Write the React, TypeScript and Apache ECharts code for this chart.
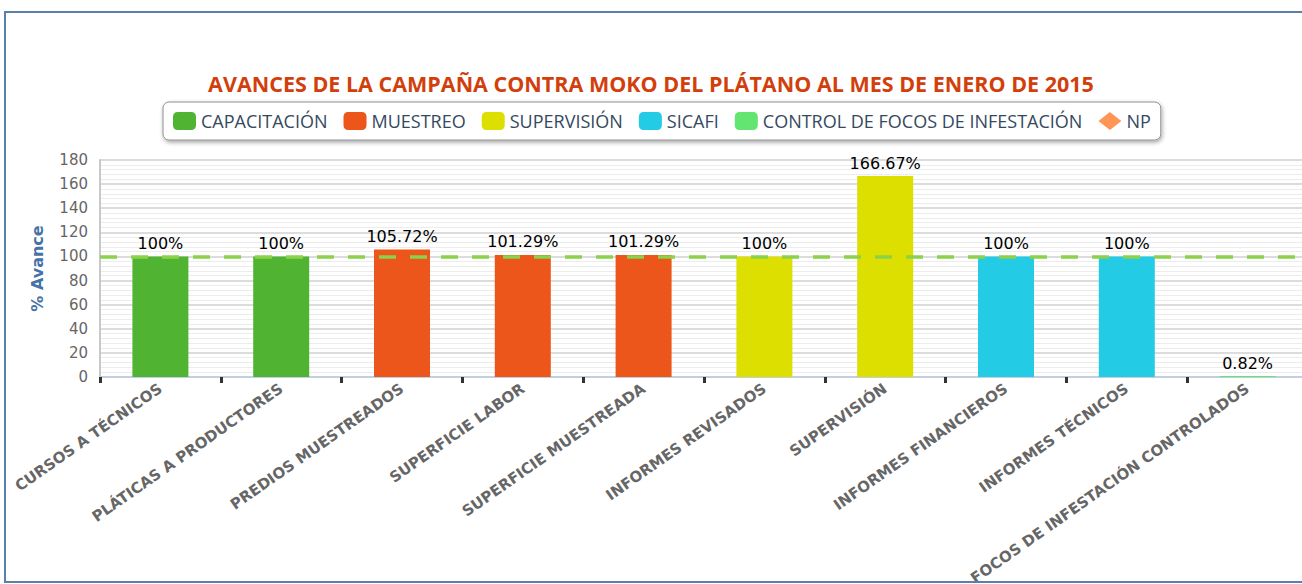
import React, { useEffect, useRef } from "react";
import * as echarts from "echarts";

const categories = [
  "CURSOS A TÉCNICOS",
  "PLÁTICAS A PRODUCTORES",
  "PREDIOS MUESTREADOS",
  "SUPERFICIE LABOR",
  "SUPERFICIE MUESTREADA",
  "INFORMES REVISADOS",
  "SUPERVISIÓN",
  "INFORMES FINANCIEROS",
  "INFORMES TÉCNICOS",
  "FOCOS DE INFESTACIÓN CONTROLADOS",
];

const capacitacion = [100, 100, null, null, null, null, null, null, null, null];
const muestreo = [null, null, 105.72, 101.29, 101.29, null, null, null, null, null];
const supervision = [null, null, null, null, null, 100, 166.67, null, null, null];
const sicafi = [null, null, null, null, null, null, null, 100, 100, null];
const controlFocos = [null, null, null, null, null, null, null, null, null, 0.82];
const npTarget = 100;

const seriesNames = [
  "CAPACITACIÓN",
  "MUESTREO",
  "SUPERVISIÓN",
  "SICAFI",
  "CONTROL DE FOCOS DE INFESTACIÓN",
  "NP",
];
const seriesData = [capacitacion, muestreo, supervision, sicafi, controlFocos];
const colors = ["#50B432", "#ED561B", "#DDDF00", "#24CBE5", "#64E572", "#FF9655"];

export default function App() {
  const ref = useRef<HTMLDivElement>(null);
  useEffect(() => {
    if (!ref.current) return;
    const chart = echarts.init(ref.current, null, { renderer: "svg" });
    const bars = seriesData.map((d, i) => ({
      name: seriesNames[i],
      type: "bar",
      stack: "all",
      data: d,
      barWidth: 56,
      itemStyle: { color: colors[i] },
      label: {
        show: true,
        position: "top",
        distance: 5,
        formatter: (p: any) => (p.value == null ? "" : `${p.value}%`),
        color: "#000",
        fontSize: 16,
        fontFamily: "DejaVu Sans",
      },
    }));
    chart.setOption({
      animation: false,
      backgroundColor: "#fff",
      title: {
        text: "AVANCES DE LA CAMPAÑA CONTRA MOKO DEL PLÁTANO AL MES DE ENERO DE 2015",
        left: 646,
        textAlign: "center",
        top: 67,
        textStyle: {
          color: "#d23f0c",
          fontSize: 21.5,
          fontWeight: "bold",
          fontFamily: "Open Sans",
        },
      },
      legend: {
        top: 102,
        left: 163,
        itemWidth: 23,
        itemHeight: 18,
        itemGap: 16,
        padding: [10, 10, 10, 10],
        backgroundColor: "#fff",
        borderColor: "#909090",
        borderWidth: 1,
        borderRadius: 6,
        shadowBlur: 4,
        shadowColor: "rgba(0,0,0,0.35)",
        shadowOffsetX: 1,
        shadowOffsetY: 2,
        textStyle: { color: "#34495e", fontSize: 18, fontFamily: "Open Sans" },
        data: seriesNames.map((n, i) =>
          i === 5 ? { name: n, icon: "diamond" } : { name: n, icon: "roundRect" }
        ),
      },
      graphic: [
        {
          type: "rect",
          shape: { x: 5, y: 12, width: 1320, height: 570 },
          style: { fill: "none", stroke: "#5a7fa8", lineWidth: 2 },
          silent: true,
          z: 100,
        },
      ],
      grid: { left: 100, top: 160, width: 1208, bottom: 207, outerBoundsMode: "none" },
      xAxis: {
        type: "category",
        data: categories,
        axisLine: { show: true, lineStyle: { color: "#c0d0e0", width: 2 } },
        axisTick: { show: true, length: 6, lineStyle: { color: "#333", width: 3 } },
        axisLabel: {
          interval: 0,
          rotate: 35,
          margin: 10,
          color: "#666",
          fontSize: 15,
          fontWeight: "bold",
          fontFamily: "DejaVu Sans",
        },
      },
      yAxis: {
        type: "value",
        min: 0,
        max: 180,
        interval: 20,
        name: "% Avance",
        nameLocation: "middle",
        nameGap: 55,
        nameTextStyle: {
          color: "#4572A7",
          fontSize: 16,
          fontWeight: "bold",
          fontFamily: "DejaVu Sans",
        },
        axisLine: { show: true, lineStyle: { color: "#c8c8c8", width: 2 } },
        axisLabel: { color: "#666", fontSize: 15, fontFamily: "DejaVu Sans", margin: 12 },
        splitLine: { lineStyle: { color: "#d0d0d0", width: 1.5 } },
        minorTick: { show: false, splitNumber: 5 },
        minorSplitLine: { show: true, lineStyle: { color: "#ececec", width: 1 } },
      },
      series: [
        ...bars,
        {
          name: seriesNames[5],
          type: "line",
          data: [],
          itemStyle: { color: colors[5] },
          markLine: {
            silent: true,
            symbol: "none",
            label: { show: false },
            lineStyle: { color: "#8cd14a", width: 3.5, type: [17, 14] },
            data: [{ yAxis: npTarget }],
          },
        },
      ],
    });
    return () => chart.dispose();
  }, []);
  return (
    <div
      ref={ref}
      style={{ position: "fixed", left: 0, top: 0, width: 1302, height: 584 }}
    />
  );
}
